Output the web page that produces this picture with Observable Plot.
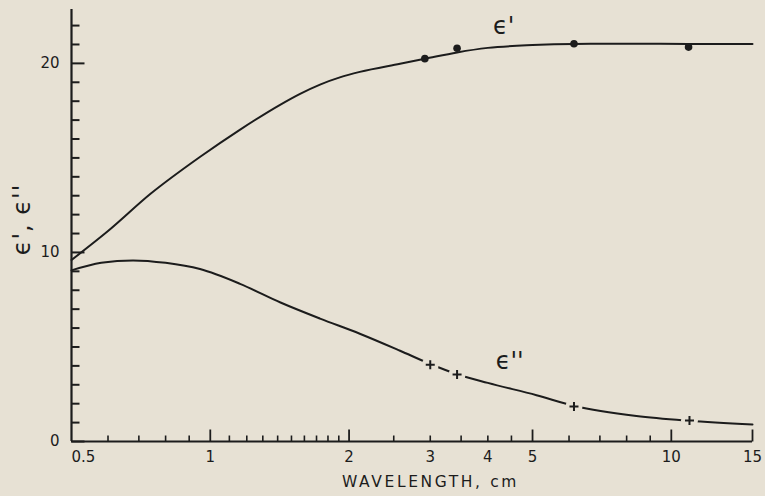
<!DOCTYPE html>
<html><head><meta charset="utf-8">
<script src="https://cdn.jsdelivr.net/npm/d3@7"></script>
<script src="https://cdn.jsdelivr.net/npm/@observablehq/plot@0.6"></script>
<style>
html,body{margin:0;padding:0;background:#e7e1d4;}
#chart svg{display:block}
</style></head><body><div id="chart"></div>
<script>
// ε' (real part) smooth curve
const realLambda = [0.5, 0.6, 0.742, 0.951, 1.161, 1.417, 1.566, 1.73, 1.91, 2.11, 2.58, 2.92, 3.43, 4.0, 5.0, 6.15, 8.0, 10.9, 15];
const realEps    = [9.6, 11.13, 13.1, 15.06, 16.5, 17.81, 18.39, 18.88, 19.26, 19.55, 19.98, 20.24, 20.58, 20.82, 20.97, 21.03, 21.04, 21.03, 21.02];
// ε'' (imaginary part) smooth curve
const imagLambda = [0.5, 0.58, 0.68, 0.8, 0.95, 1.16, 1.42, 1.73, 2.11, 2.58, 3.0, 3.43, 4.0, 5.1, 6.17, 8.4, 10.9, 15];
const imagEps    = [9.05, 9.45, 9.58, 9.45, 9.12, 8.34, 7.35, 6.5, 5.7, 4.8, 4.1, 3.56, 3.1, 2.45, 1.88, 1.35, 1.1, 0.9];
// measured points
const dotLambda  = [2.92, 3.43, 6.15, 10.9];
const dotEps     = [20.25, 20.8, 21.04, 20.86];
const plusLambda = [3.0, 3.43, 6.15, 10.95];
const plusEps    = [4.06, 3.54, 1.85, 1.11];
// axes
const xTickLabels = [1, 2, 3, 4, 5, 10, 15];
const xFirstLabel = [0.5];
const xMajorTicks = [1, 2, 5, 10, 15];
const xMinorTicks = [0.6, 0.7, 0.8, 0.9, 1.1, 1.2, 1.3, 1.4, 1.5, 1.6, 1.7, 1.8, 1.9, 2.5, 3, 3.5, 4, 4.5, 6, 7, 8, 9];
const yTickLabels = [0, 10, 20];
const yMinorTicks = [1,2,3,4,5,6,7,8,9,11,12,13,14,15,16,17,18,19,21,22];
const curveLabels = ["ϵ'", "ϵ''"];
const curveLabelLambda = [4.33, 4.46];
const curveLabelEps = [21.96, 4.23];
const xTitle = "WAVELENGTH, cm";
const yTitle = "ϵ', ϵ''";

const W = 765, H = 496, mL = 71, mR = 13, mT = 9, mB = 55;
const ink = "#1c1c1c", bg = "#e7e1d4";

// custom stroke symbols for inward axis ticks and plus markers
const tickRight = len => ({draw(ctx) { ctx.moveTo(0, 0); ctx.lineTo(len, 0); }});
const tickUp = len => ({draw(ctx) { ctx.moveTo(0, 0); ctx.lineTo(0, -len); }});
const plusSym = arm => ({draw(ctx) { ctx.moveTo(-arm, 0); ctx.lineTo(arm, 0); ctx.moveTo(0, -arm); ctx.lineTo(0, arm); }});

const real = realLambda.map((x, i) => ({x, y: realEps[i]}));
const imag = imagLambda.map((x, i) => ({x, y: imagEps[i]}));
const dots = dotLambda.map((x, i) => ({x, y: dotEps[i]}));
const plus = plusLambda.map((x, i) => ({x, y: plusEps[i]}));
const labels = curveLabels.map((t, i) => ({t, x: curveLabelLambda[i], y: curveLabelEps[i]}));

const chart = Plot.plot({
  width: W, height: H,
  marginLeft: mL, marginRight: mR, marginTop: mT, marginBottom: mB,
  style: {background: "transparent", fontFamily: "'DejaVu Sans', sans-serif", color: ink},
  x: {type: "log", domain: [0.5, 15]},
  y: {domain: [0, 22.85]},
  marks: [
    Plot.ruleX([0.5], {stroke: ink, strokeWidth: 2.2}),
    Plot.ruleY([0], {stroke: ink, strokeWidth: 2.2}),
    Plot.dot(yMinorTicks, {x: () => 0.5, y: d => d, symbol: tickRight(8), fill: "none", stroke: ink, strokeWidth: 2}),
    Plot.dot(yTickLabels, {x: () => 0.5, y: d => d, symbol: tickRight(13), fill: "none", stroke: ink, strokeWidth: 2}),
    Plot.dot(xMinorTicks, {x: d => d, y: () => 0, symbol: tickUp(6), fill: "none", stroke: ink, strokeWidth: 1.6}),
    Plot.dot(xMajorTicks, {x: d => d, y: () => 0, symbol: tickUp(12), fill: "none", stroke: ink, strokeWidth: 1.8}),
    Plot.axisY({ticks: yTickLabels, tickSize: 0, tickPadding: 12, label: null, fontSize: 15}),
    Plot.axisX({ticks: xTickLabels, tickSize: 0, tickPadding: 10, label: null, fontSize: 15, tickFormat: d => String(d)}),
    Plot.text(xFirstLabel, {x: d => d, y: () => 0, text: d => String(d), textAnchor: "start", lineAnchor: "top", dy: 10, fontSize: 15, fill: ink}),
    Plot.line(real, {x: "x", y: "y", curve: "monotone-x", stroke: ink, strokeWidth: 2}),
    Plot.line(imag, {x: "x", y: "y", curve: "monotone-x", stroke: ink, strokeWidth: 2}),
    Plot.dot(plus, {x: "x", y: "y", r: 8.5, fill: bg, stroke: null}),
    Plot.dot(plus, {x: "x", y: "y", symbol: plusSym(4.5), fill: "none", stroke: ink, strokeWidth: 2}),
    Plot.dot(dots, {x: "x", y: "y", r: 3.8, fill: ink, stroke: null}),
    Plot.text(labels, {x: "x", y: "y", text: "t", fontSize: 24, fill: ink}),
    Plot.text([yTitle], {frameAnchor: "left", y: () => 11.74, rotate: -90, textAnchor: "middle", dx: -49, fontSize: 24, fill: ink}),
    Plot.text([xTitle], {frameAnchor: "bottom", textAnchor: "middle", dx: 18.5, dy: 45, fontSize: 15.5, fill: ink})
  ]
});
document.getElementById("chart").appendChild(chart);
d3.select(chart).selectAll("text").filter(function() { return this.textContent === xTitle; }).attr("letter-spacing", "2.6px");
d3.select(chart).selectAll("text").filter(function() { return this.textContent === yTitle; }).attr("letter-spacing", "1px");
</script>
</body></html>
